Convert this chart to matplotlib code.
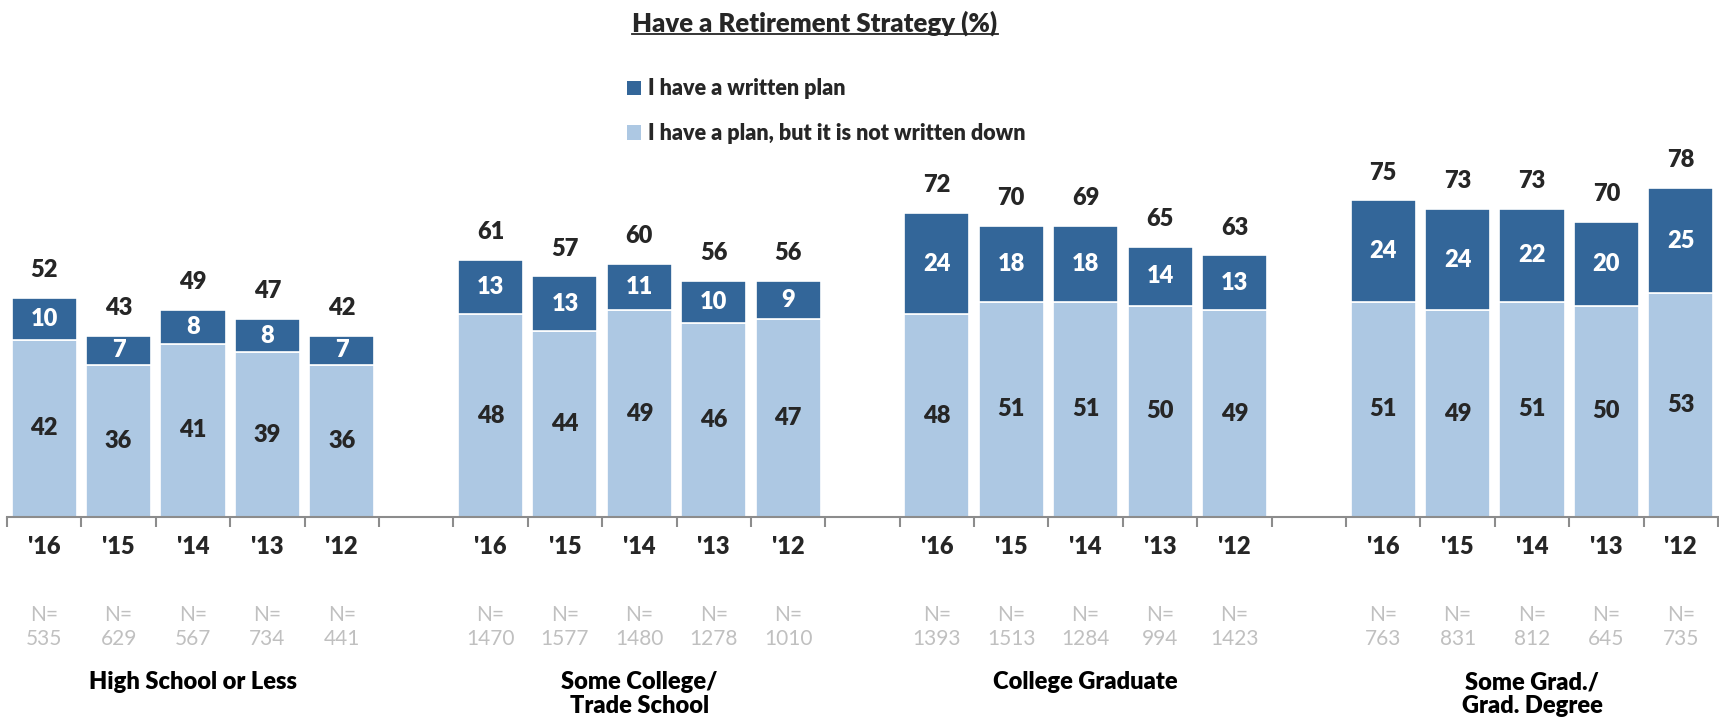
import matplotlib.pyplot as plt
from matplotlib.patches import Patch
from matplotlib.lines import Line2D

plt.rcParams['font.family'] = ['Lato', 'DejaVu Sans']

# 各學歷組別、年份與比例資料
groups = ['High School or Less', 'Some College/\nTrade School',
          'College Graduate', 'Some Grad./\nGrad. Degree']
years = ["'16", "'15", "'14", "'13", "'12"]

written_hs = [10, 7, 8, 8, 7]
written_sc = [13, 13, 11, 10, 9]
written_cg = [24, 18, 18, 14, 13]
written_gd = [24, 24, 22, 20, 25]

not_written_hs = [42, 36, 41, 39, 36]
not_written_sc = [48, 44, 49, 46, 47]
not_written_cg = [48, 51, 51, 50, 49]
not_written_gd = [51, 49, 51, 50, 53]

totals_hs = [52, 43, 49, 47, 42]
totals_sc = [61, 57, 60, 56, 56]
totals_cg = [72, 70, 69, 65, 63]
totals_gd = [75, 73, 73, 70, 78]

n_hs = [535, 629, 567, 734, 441]
n_sc = [1470, 1577, 1480, 1278, 1010]
n_cg = [1393, 1513, 1284, 994, 1423]
n_gd = [763, 831, 812, 645, 735]

written = [written_hs, written_sc, written_cg, written_gd]
not_written = [not_written_hs, not_written_sc, not_written_cg, not_written_gd]
totals = [totals_hs, totals_sc, totals_cg, totals_gd]
n_sizes = [n_hs, n_sc, n_cg, n_gd]

DARK = '#336699'
LIGHT = '#adc8e3'
TXT = '#262626'
BOLD = 'heavy'

W, H = 1719, 722
fig = plt.figure(figsize=(W / 100, H / 100), dpi=100)
ax = fig.add_axes([7 / W, (H - 517) / H, 1711 / W, 422 / H])
ax.set_xlim(-0.5, 22.5)
ax.set_ylim(0, 100)

tick_pos, tick_lab = [], []
for g in range(4):
    xs = [g * 6 + i for i in range(5)]
    nw, wr, tot = not_written[g], written[g], totals[g]
    ax.bar(xs, nw, width=0.875, color=LIGHT, edgecolor='white', linewidth=1.2)
    ax.bar(xs, wr, bottom=nw, width=0.875, color=DARK, edgecolor='white', linewidth=1.2)
    for x, a, b, t, n in zip(xs, nw, wr, tot, n_sizes[g]):
        ax.text(x, a / 2, str(a), ha='center', va='center', fontsize=17,
                fontweight=BOLD, color=TXT)
        ax.text(x, a + b / 2, str(b), ha='center', va='center', fontsize=17,
                fontweight=BOLD, color='white')
        ax.text(x, a + b + 6.6, str(t), ha='center', va='center', fontsize=17,
                fontweight=BOLD, color=TXT)
        ax.text(x, -26, 'N=\n' + str(n), ha='center', va='center', fontsize=15,
                color='#c0c0c0', linespacing=1.25)
    tick_pos += xs
    tick_lab += years
    ax.text(g * 6 + 2, -36.5, groups[g], ha='center', va='top', fontsize=17,
            fontweight=BOLD, color='black', linespacing=1.12)

ax.set_xticks(tick_pos, tick_lab)
ax.set_xticks([i - 0.5 for i in range(24)], minor=True)
ax.tick_params(axis='x', which='major', length=0, pad=14, labelsize=17,
               labelcolor=TXT)
for lab in ax.get_xticklabels():
    lab.set_fontweight(BOLD)
ax.tick_params(axis='x', which='minor', length=7, width=1.5, color='#8c8c8c')
ax.set_yticks([])
for s in ['top', 'right', 'left']:
    ax.spines[s].set_visible(False)
ax.spines['bottom'].set_color('#8c8c8c')
ax.spines['bottom'].set_linewidth(1.5)

# 標題與底線
title = fig.text(815 / W, 1 - 23 / H, 'Have a Retirement Strategy (%)',
                 ha='center', va='center', fontsize=18.5, fontweight=BOLD,
                 color=TXT)
fig.canvas.draw()
bb = title.get_window_extent()
fig.add_artist(Line2D([bb.x0 / W, bb.x1 / W], [1 - 34 / H, 1 - 34 / H],
                      color=TXT, linewidth=1.3))

handles = [Patch(facecolor=DARK, label='I have a written plan'),
           Patch(facecolor=LIGHT, label='I have a plan, but it is not written down')]
leg = fig.legend(handles=handles, loc='upper left',
                 bbox_to_anchor=(608 / W, 1 - 59 / H), frameon=False,
                 fontsize=15.5, handlelength=0.65, handleheight=0.65,
                 handletextpad=0.3, labelspacing=1.1)
for t in leg.get_texts():
    t.set_fontweight(BOLD)
    t.set_color(TXT)

fig.savefig('out.png', dpi=100)
